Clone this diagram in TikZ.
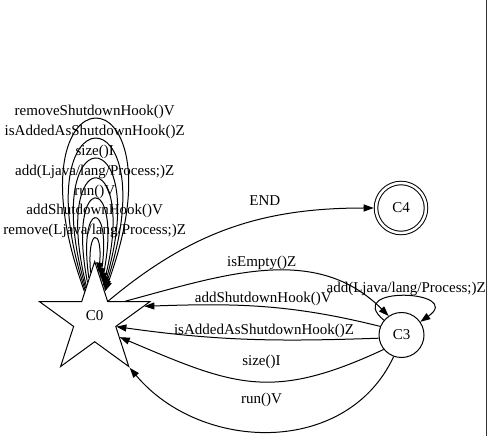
\documentclass[tikz,border=0pt]{standalone}
\usepackage{fontspec}
\setmainfont{Liberation Serif}
\usetikzlibrary{arrows.meta,shapes.geometric}

\begin{document}
\begin{tikzpicture}[x=1pt,y=1pt,line width=1pt,>={Triangle[length=10pt,width=7pt]},
    every node/.style={font=\fontsize{15}{18}\selectfont},
    lbl/.style={inner sep=0pt,text height=10pt,text depth=3pt}]
  \useasboundingbox (0,0) rectangle (489,436);
  \node[star,star points=5,star point ratio=2.618,minimum size=116pt,inner sep=0pt,draw] (c0) at (94.7,116.4) {\raisebox{8pt}{C0}};
  \node[circle,minimum size=45pt,inner sep=0pt,draw] (c3) at (401.5,101) {C3};
  \node[circle,double,double distance=2.5pt,minimum size=50pt,inner sep=0pt,outer sep=2.3pt,draw] (c4) at (401,228) {C4};
  % self loops on C0, innermost first
  \foreach \ang/\dist/\lab in {5/45.4/{remove(Ljava/lang/Process;)Z},8/79.6/{addShutdownHook()V},
      11/113.1/{run()V},14/146.8/{add(Ljava/lang/Process;)Z},16/178.6/{size()I},
      18/211.1/{isAddedAsShutdownHook()Z},20/244.5/{removeShutdownHook()V}}{
    \pgfmathtruncatemacro{\outa}{90+\ang}
    \pgfmathtruncatemacro{\ina}{90-\ang}
    \draw[->] (c0) to[out=\outa,in=\ina,distance=\dist pt] node[lbl,above=0.5pt] {\lab} (c0);
  }
  \draw[->] (c0.54) to[out=40,in=180] node[lbl,above=9.3pt,pos=0.63] {END} (c4);
  \draw[->] (c0.31) to[out=15,in=135] node[lbl,above=1.8pt,pos=0.48] {isEmpty()Z} (c3.124);
  \draw[->] (c3) to[out=140,in=35,distance=55pt] node[lbl,above=0pt,xshift=3pt] {add(Ljava/lang/Process;)Z} (c3);
  \draw[->] (c3.158) to[out=166,in=2] node[lbl,above=1pt] {addShutdownHook()V} (c0.15);
  \draw[->] (c3.188) to[out=182,in=-8] node[lbl,above=2pt,pos=0.43] {isAddedAsShutdownHook()Z} (c0.-18);
  \draw[->] (c3.219) to[out=205,in=-23,looseness=1.2] node[lbl,above=13pt,pos=0.46] {size()I} (c0.-35);
  \draw[->] (c3.250) to[out=245,in=-50,looseness=1.07] node[lbl,above=24pt,pos=0.53] {run()V} (c0.-54);
  % right frame edge
  \draw[black!80] (486.5,0) -- (486.5,436);
\end{tikzpicture}
\end{document}
